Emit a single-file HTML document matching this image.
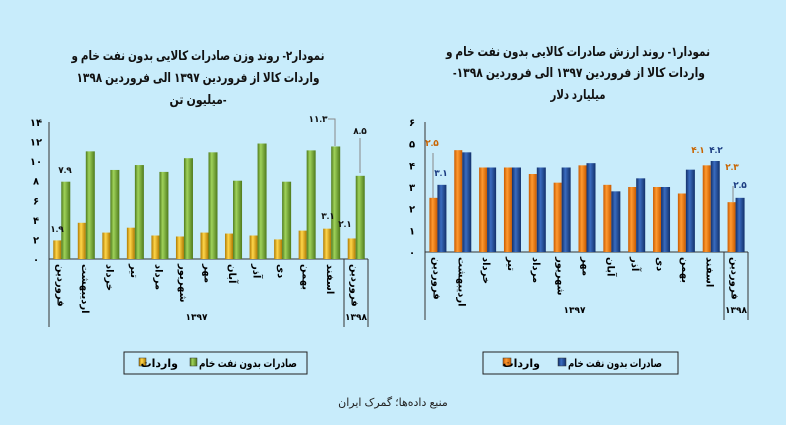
<!DOCTYPE html>
<html><head><meta charset="utf-8"><style>
body{margin:0;background:#c8ecfb;}
svg{display:block;font-family:"Liberation Sans","DejaVu Sans",sans-serif;}
.r{direction:rtl;unicode-bidi:embed;}
</style></head><body>
<svg id="s" width="786" height="425" xmlns="http://www.w3.org/2000/svg">
<defs>
<linearGradient id="g" x1="0" x2="1"><stop offset="0" stop-color="#4e7a1c"/><stop offset=".35" stop-color="#9fd25a"/><stop offset="1" stop-color="#4e7a1c"/></linearGradient>
<linearGradient id="y" x1="0" x2="1"><stop offset="0" stop-color="#b07a00"/><stop offset=".4" stop-color="#ffd64a"/><stop offset="1" stop-color="#b07a00"/></linearGradient>
<linearGradient id="o" x1="0" x2="1"><stop offset="0" stop-color="#c85a00"/><stop offset=".4" stop-color="#ff9a30"/><stop offset="1" stop-color="#c85a00"/></linearGradient>
<linearGradient id="b" x1="0" x2="1"><stop offset="0" stop-color="#12306a"/><stop offset=".4" stop-color="#3a6cc0"/><stop offset="1" stop-color="#12306a"/></linearGradient>
</defs>
<rect width="786" height="425" fill="#c8ecfb"/>
<g font-weight="bold" font-size="13" text-anchor="middle" fill="#111" class="r">
<text class="r" x="198" y="60" textLength="253" lengthAdjust="spacingAndGlyphs">نمودار۲- روند وزن صادرات کالایی بدون نفت خام و</text>
<text class="r" x="198" y="82" textLength="243" lengthAdjust="spacingAndGlyphs">واردات کالا از فروردین ۱۳۹۷ الی فروردین ۱۳۹۸</text>
<text class="r" x="198" y="104" textLength="57" lengthAdjust="spacingAndGlyphs">-میلیون تن</text>
<text class="r" x="578" y="56" textLength="264" lengthAdjust="spacingAndGlyphs">نمودار۱- روند ارزش صادرات کالایی بدون نفت خام و</text>
<text class="r" x="579" y="77" textLength="252" lengthAdjust="spacingAndGlyphs">واردات کالا از فروردین ۱۳۹۷ الی فروردین ۱۳۹۸-</text>
<text class="r" x="578" y="99" textLength="55" lengthAdjust="spacingAndGlyphs">میلیارد دلار</text>
</g>
<g id="charts"></g>
<g stroke="#888" fill="none" stroke-width="1">
<polyline points="328,119 335,119 335,146"/>
<line x1="360" y1="138" x2="360" y2="173"/>
<line x1="433" y1="153" x2="433" y2="198"/>
<line x1="733" y1="186" x2="733" y2="202"/>
</g>
<g font-size="11" font-weight="bold">
<rect x="124" y="352" width="183" height="22" fill="#c8ecfb" stroke="#222"/>
<rect x="190" y="358" width="7" height="8" fill="url(#g)" stroke="#333" stroke-width=".5"/>
<text class="r" x="297" y="367" text-anchor="start" textLength="98" lengthAdjust="spacingAndGlyphs">صادرات بدون نفت خام</text>
<rect x="139" y="358" width="7" height="8" fill="url(#y)" stroke="#333" stroke-width=".5"/>
<text class="r" x="178" y="367" text-anchor="start">واردات</text>
<rect x="483" y="352" width="195" height="22" fill="#c8ecfb" stroke="#222"/>
<rect x="558" y="358" width="8" height="8" fill="url(#b)" stroke="#333" stroke-width=".5"/>
<text class="r" x="662" y="367" text-anchor="start" textLength="94" lengthAdjust="spacingAndGlyphs">صادرات بدون نفت خام</text>
<rect x="503" y="358" width="8" height="8" fill="url(#o)" stroke="#333" stroke-width=".5"/>
<text class="r" x="540" y="367" text-anchor="start">واردات</text>
</g>
<text class="r" x="393" y="406" font-size="11" text-anchor="middle" fill="#222">منبع داده‌ها؛ گمرک ایران</text>
</svg>
<script>
var months=["فروردین","اردیبهشت","خرداد","تیر","مرداد","شهریور","مهر","آبان","آذر","دی","بهمن","اسفند","فروردین"];
var fa=function(s){return String(s).replace(/\d/g,function(d){return "۰۱۲۳۴۵۶۷۸۹"[d];});};
function chart(o){
 var h='';var sc=(o.y0-o.yt)/o.max;
 h+='<line x1="'+o.x0+'" y1="'+o.yt+'" x2="'+o.x0+'" y2="'+o.bot+'" stroke="#333"/>';
 h+='<line x1="'+o.x0+'" y1="'+o.y0+'" x2="'+o.x1+'" y2="'+o.y0+'" stroke="#333"/>';
 h+='<line x1="'+o.sep+'" y1="'+o.y0+'" x2="'+o.sep+'" y2="'+o.bot+'" stroke="#333"/>';
 h+='<line x1="'+o.x1+'" y1="'+o.y0+'" x2="'+o.x1+'" y2="'+o.bot+'" stroke="#333"/>';
 for(var v=0;v<=o.max;v+=o.step){h+='<text x="'+(o.x0-13)+'" y="'+(o.y0-v*sc+4)+'" font-size="10" font-weight="bold" text-anchor="middle">'+fa(v)+'</text>';}
 var gw=(o.x1-o.x0)/13;
 for(var i=0;i<13;i++){var cx=o.x0+gw*i+gw/2;
  var a=o.a[i]*sc,b=o.b[i]*sc;
  h+='<rect x="'+(cx-8)+'" y="'+(o.y0-a)+'" width="8" height="'+a+'" fill="url(#'+o.ca+')"/>';
  h+='<rect x="'+cx+'" y="'+(o.y0-b)+'" width="9" height="'+b+'" fill="url(#'+o.cb+')"/>';
  h+='<text class="r" transform="translate('+(cx-4)+','+(o.y0+5)+') rotate(90)" font-size="10" font-weight="bold" text-anchor="end">'+months[i]+'</text>';
 }
 h+='<text x="'+((o.x0+o.sep)/2)+'" y="'+(o.bot-7)+'" font-size="9" font-weight="bold" text-anchor="middle">۱۳۹۷</text>';
 h+='<text x="'+((o.sep+o.x1)/2)+'" y="'+(o.bot-7)+'" font-size="9" font-weight="bold" text-anchor="middle">۱۳۹۸</text>';
 o.labels.forEach(function(l){h+='<text x="'+l[0]+'" y="'+l[1]+'" font-size="9" font-weight="bold" fill="'+(l[3]||'#111')+'" text-anchor="middle">'+l[2]+'</text>';});
 return h;
}
var H=chart({x0:49,x1:368,sep:344,yt:122,y0:259,bot:327,max:14,step:2,ca:'y',cb:'g',
 a:[1.9,3.7,2.7,3.2,2.4,2.3,2.7,2.6,2.4,2.0,2.9,3.1,2.1],
 b:[7.9,11.0,9.1,9.6,8.9,10.3,10.9,8.0,11.8,7.9,11.1,11.5,8.5],
 labels:[[57,232,'۱.۹'],[65,173,'۷.۹'],[318,122,'۱۱.۳'],[360,134,'۸.۵'],[328,219,'۳.۱'],[345,227,'۲.۱']]});
H+=chart({x0:425,x1:748,sep:724,yt:122,y0:252,bot:320,max:6,step:1,ca:'o',cb:'b',
 a:[2.5,4.7,3.9,3.9,3.6,3.2,4.0,3.1,3.0,3.0,2.7,4.0,2.3],
 b:[3.1,4.6,3.9,3.9,3.9,3.9,4.1,2.8,3.4,3.0,3.8,4.2,2.5],
 labels:[[432,146,'۲.۵','#c86400'],[441,176,'۳.۱','#1a3a80'],[698,153,'۴.۱','#c86400'],[716,153,'۴.۲','#1a3a80'],[732,170,'۲.۳','#c86400'],[740,188,'۲.۵','#1a3a80']]});
document.getElementById('charts').innerHTML=H;
</script>
</body></html>
